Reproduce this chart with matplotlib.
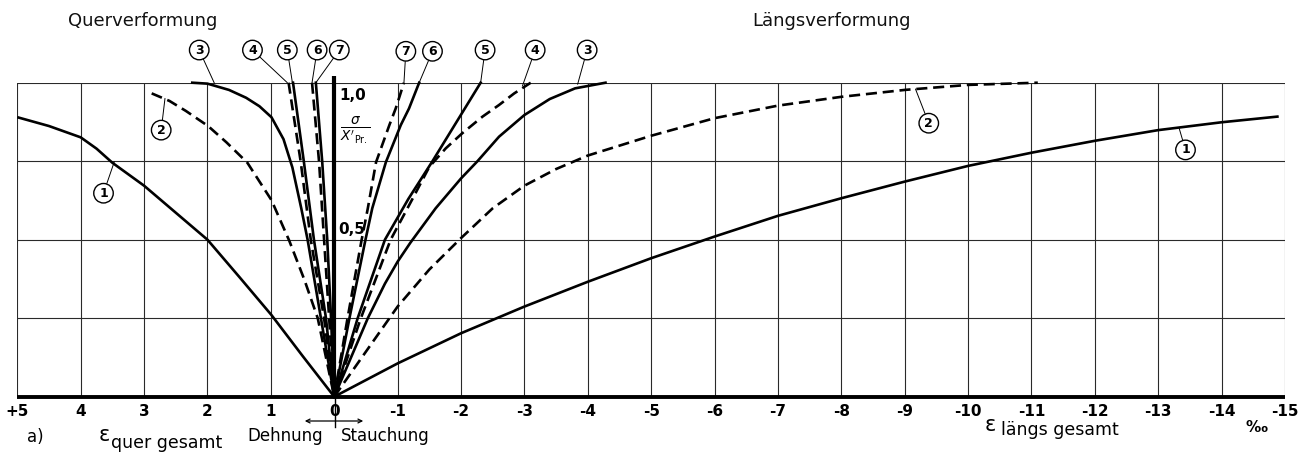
import matplotlib
matplotlib.use('Agg')
import matplotlib.pyplot as plt

# ---------------- data ----------------
x_ticks = list(range(5, -16, -1))
x_tick_labels = ['+5', '4', '3', '2', '1', '0'] + [f'-{i}' for i in range(1, 16)]
y_grid = [0.25, 0.5, 0.75, 1.0]

# Querverformung (positive side)
quer_1_x = [4.98, 4.5, 4.0, 3.75, 3.5, 3.0, 2.5, 2.0, 1.5, 0.99, 0.5, 0.0]
quer_1_y = [0.889, 0.862, 0.826, 0.79, 0.745, 0.672, 0.586, 0.5, 0.382, 0.26, 0.13, 0.0]
quer_2_x = [2.88, 2.6, 2.34, 1.99, 1.7, 1.37, 0.99, 0.71, 0.47, 0.26, 0.0]
quer_2_y = [0.966, 0.942, 0.91, 0.862, 0.81, 0.745, 0.626, 0.497, 0.372, 0.25, 0.0]
quer_3_x = [2.24, 2.0, 1.66, 1.39, 1.18, 0.99, 0.8, 0.66, 0.52, 0.42, 0.21, 0.0]
quer_3_y = [1.0, 0.997, 0.977, 0.952, 0.925, 0.89, 0.82, 0.73, 0.6, 0.5, 0.25, 0.0]
quer_4_x = [0.72, 0.53, 0.37, 0.16, 0.0]
quer_4_y = [1.0, 0.75, 0.5, 0.25, 0.0]
quer_5_x = [0.65, 0.48, 0.32, 0.13, 0.0]
quer_5_y = [1.0, 0.75, 0.5, 0.25, 0.0]
quer_6_x = [0.29, 0.19, 0.11, 0.05, 0.0]
quer_6_y = [1.0, 0.75, 0.5, 0.25, 0.0]
quer_7_x = [0.35, 0.24, 0.16, 0.08, 0.0]
quer_7_y = [1.0, 0.75, 0.5, 0.25, 0.0]

# Längsverformung (negative side)
laengs_1_x = [0, -1, -2, -3, -4, -5, -6, -7, -8, -9, -10, -11, -12, -13, -14, -14.88]
laengs_1_y = [0, 0.106, 0.202, 0.287, 0.366, 0.441, 0.51, 0.576, 0.632, 0.685, 0.735, 0.777, 0.815, 0.849, 0.874, 0.892]
laengs_2_x = [0, -1, -1.5, -2, -2.5, -3, -3.5, -4, -5, -6, -7, -8, -9, -10, -11.1]
laengs_2_y = [0, 0.287, 0.405, 0.505, 0.6, 0.672, 0.725, 0.768, 0.831, 0.887, 0.927, 0.955, 0.977, 0.993, 1.0]
laengs_3_x = [0, -0.53, -0.8, -1.0, -1.2, -1.6, -2.0, -2.26, -2.6, -3.0, -3.4, -3.8, -4.28]
laengs_3_y = [0, 0.25, 0.36, 0.43, 0.49, 0.6, 0.695, 0.75, 0.828, 0.897, 0.948, 0.982, 1.0]
laengs_4_x = [0, -0.42, -0.89, -1.24, -1.5, -1.76, -2.02, -2.34, -2.6, -2.84, -3.1]
laengs_4_y = [0, 0.25, 0.5, 0.632, 0.732, 0.791, 0.839, 0.892, 0.929, 0.966, 1.0]
laengs_5_x = [0, -0.37, -0.8, -1.17, -1.55, -2.31]
laengs_5_y = [0, 0.25, 0.5, 0.63, 0.75, 1.0]
laengs_6_x = [0, -0.24, -0.49, -0.6, -0.815, -1.05, -1.18, -1.34]
laengs_6_y = [0, 0.25, 0.497, 0.6, 0.747, 0.865, 0.918, 1.0]
laengs_7_x = [0, -0.21, -0.43, -0.53, -0.66, -0.87, -0.97, -1.1]
laengs_7_y = [0, 0.25, 0.497, 0.6, 0.747, 0.865, 0.918, 1.0]

series_names = ['1', '2', '3', '4', '5', '6', '7']
series_styles = ['solid', 'dashed', 'solid', 'dashed', 'solid', 'solid', 'dashed']

quer = [(quer_1_x, quer_1_y), (quer_2_x, quer_2_y), (quer_3_x, quer_3_y), (quer_4_x, quer_4_y),
        (quer_5_x, quer_5_y), (quer_6_x, quer_6_y), (quer_7_x, quer_7_y)]
laengs = [(laengs_1_x, laengs_1_y), (laengs_2_x, laengs_2_y), (laengs_3_x, laengs_3_y),
          (laengs_4_x, laengs_4_y), (laengs_5_x, laengs_5_y), (laengs_6_x, laengs_6_y),
          (laengs_7_x, laengs_7_y)]

# circled labels: text, label position, leader end (data coords)
circle_labels = [
    ('1', (3.64, 0.648), (3.47, 0.748)),
    ('2', (2.73, 0.849), (2.67, 0.95)),
    ('3', (2.13, 1.104), (1.89, 0.998)),
    ('4', (1.29, 1.104), (0.74, 1.0)),
    ('5', (0.74, 1.104), (0.66, 1.0)),
    ('6', (0.27, 1.104), (0.35, 1.0)),
    ('7', (-0.08, 1.104), (0.29, 1.0)),
    ('7', (-1.13, 1.1), (-1.1, 1.0)),
    ('6', (-1.55, 1.1), (-1.34, 1.0)),
    ('5', (-2.38, 1.104), (-2.31, 1.0)),
    ('4', (-3.17, 1.104), (-2.97, 0.99)),
    ('3', (-3.99, 1.104), (-3.84, 0.995)),
    ('2', (-9.38, 0.871), (-9.17, 0.98)),
    ('1', (-13.43, 0.786), (-13.33, 0.855)),
]

# ---------------- figure ----------------
W, H = 1306, 458
fig = plt.figure(figsize=(W / 100, H / 100), dpi=100)
x_left_px, x_right_px = 17.3, 1285.0
y_top_px, y_bot_px = 82.7, 396.7
ax = fig.add_axes([x_left_px / W, 1 - y_bot_px / H,
                   (x_right_px - x_left_px) / W, (y_bot_px - y_top_px) / H])
ax.set_xlim(5, -15)
ax.set_ylim(0, 1)
for s in ax.spines.values():
    s.set_visible(False)
ax.set_yticks([])
ax.set_xticks(x_ticks)
ax.set_xticklabels(x_tick_labels, fontweight='bold', fontsize=11)
ax.tick_params(axis='x', length=0, pad=5)

grid_col = '#2a2a2a'
for xv in x_ticks:
    ax.plot([xv, xv], [0, 1], color=grid_col, lw=0.8, zorder=1)
for yv in y_grid:
    ax.plot([x_ticks[0], x_ticks[-1]], [yv, yv], color=grid_col, lw=0.8, zorder=1)
ax.plot([x_ticks[0], x_ticks[-1]], [0, 0], color='k', lw=2.8, zorder=3, clip_on=False,
        solid_capstyle='butt')
ax.plot([0, 0], [0, 1.02], color='k', lw=3.0, zorder=3, clip_on=False, solid_capstyle='butt')

for (qx, qy), (lx, ly), st in zip(quer, laengs, series_styles):
    for xs, ys in ((qx, qy), (lx, ly)):
        if st == 'dashed':
            ax.plot(xs, ys, color='k', lw=1.9, dashes=(4.2, 2.2), zorder=4, clip_on=False,
                    solid_joinstyle='round', dash_joinstyle='round')
        else:
            ax.plot(xs, ys, color='k', lw=1.9, zorder=4, clip_on=False,
                    solid_joinstyle='round')

for txt, (tx, ty), (px, py) in circle_labels:
    ax.annotate(txt, xy=(px, py), xytext=(tx, ty), ha='center', va='center',
                fontsize=9, fontweight='bold', annotation_clip=False, zorder=6,
                bbox=dict(boxstyle='circle,pad=0.26', fc='white', ec='k', lw=1.0),
                arrowprops=dict(arrowstyle='-', lw=0.7, color='k', shrinkA=0, shrinkB=0))


def ftext(xp, yp, s, **kw):
    fig.text(xp / W, 1 - yp / H, s, **kw)


ftext(68, 21, 'Querverformung', fontsize=13, va='center', ha='left', color='#111')
ftext(752, 21, 'Längsverformung', fontsize=13, va='center', ha='left', color='#111')
ftext(339, 95, '1,0', fontsize=11, fontweight='bold', va='center', ha='left')
ftext(340, 130, r"$\frac{\sigma}{X'_{\mathrm{Pr.}}}$", fontsize=14, va='center', ha='left')
ftext(338, 229, '0,5', fontsize=11, fontweight='bold', va='center', ha='left')

ftext(27, 437, 'a)', fontsize=12, va='center', ha='left')
ftext(99, 435, 'ε', fontsize=15, va='center', ha='left')
ftext(111, 443, 'quer gesamt', fontsize=12.5, va='center', ha='left')
ftext(323, 436, 'Dehnung', fontsize=12, va='center', ha='right')
ftext(341, 436, 'Stauchung', fontsize=12, va='center', ha='left')
ftext(985, 425, 'ε', fontsize=15, va='center', ha='left')
ftext(1001, 430, 'längs gesamt', fontsize=12.5, va='center', ha='left')
ftext(1257, 427, '‰', fontsize=11, fontweight='bold', va='center', ha='center')

# arrow under zero
fig.add_artist(matplotlib.patches.FancyArrowPatch(
    (302 / W, 1 - 421 / H), (366 / W, 1 - 421 / H), transform=fig.transFigure,
    arrowstyle='<->', mutation_scale=7, lw=0.9, color='k'))
fig.add_artist(matplotlib.lines.Line2D([335 / W, 335 / W], [1 - 398 / H, 1 - 427 / H],
                                       transform=fig.transFigure, color='k', lw=1.0))

fig.savefig('out.png', dpi=100, facecolor='white')
